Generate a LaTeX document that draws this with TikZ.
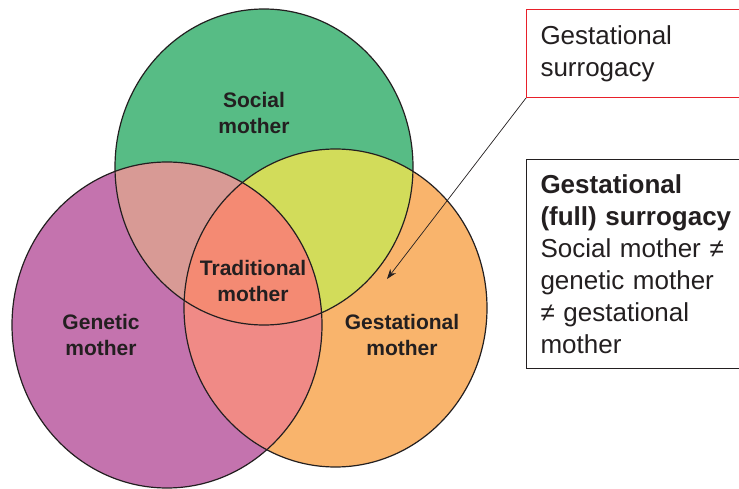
\documentclass[tikz,border=0pt]{standalone}
\usepackage{fontspec}
\setmainfont{Liberation Sans}
\usetikzlibrary{arrows.meta}

\definecolor{inkc}{HTML}{231F20}
\definecolor{socialc}{HTML}{57BC85}
\definecolor{geneticc}{HTML}{C473AE}
\definecolor{gestc}{HTML}{F9B46C}
\definecolor{socgenc}{HTML}{D89A95}
\definecolor{socgestc}{HTML}{D2DC5A}
\definecolor{gengestc}{HTML}{F08A86}
\definecolor{allc}{HTML}{F48A73}
\definecolor{boxred}{HTML}{E8202A}

% the three ellipses of the diagram
\def\socialE{(264,321) ellipse [x radius=149, y radius=158]}
\def\geneticE{(167,163) ellipse [x radius=155, y radius=163]}
\def\gestE{(335.5,180) ellipse [x radius=151.5, y radius=159]}

\tikzset{
  outline/.style={draw=inkc, line width=1.2pt},
  setlabel/.style={text=inkc, font=\fontsize{21}{26}\selectfont\bfseries, align=center, inner sep=0pt},
  infobox/.style={anchor=north west, rectangle, line width=1pt, text=inkc,
    font=\fontsize{26}{32}\selectfont, align=left, text width=202pt,
    inner xsep=14pt, inner ysep=0pt},
  pointer/.style={draw=inkc, line width=0.7pt, -{Stealth[length=10pt,width=7pt]}}
}

\begin{document}
\begin{tikzpicture}[x=1pt,y=1pt]
\useasboundingbox (0,0) rectangle (739,488);
\clip (0,0) rectangle (739,488);

% plain fills
\fill[socialc] \socialE;
\fill[geneticc] \geneticE;
\fill[gestc] \gestE;

% pairwise overlaps
\begin{scope}
  \clip \socialE;
  \fill[socgenc] \geneticE;
  \fill[socgestc] \gestE;
\end{scope}
\begin{scope}
  \clip \geneticE;
  \fill[gengestc] \gestE;
\end{scope}
% overlap of all three
\begin{scope}
  \clip \socialE;
  \clip \geneticE;
  \fill[allc] \gestE;
\end{scope}

% outlines
\draw[outline] \socialE;
\draw[outline] \geneticE;
\draw[outline] \gestE;

% set labels
\node[setlabel] (social) at (254,375) {Social\\mother};
\node[setlabel] (traditional) at (253,207) {Traditional\\mother};
\node[setlabel] (genetic) at (101,153.5) {Genetic\\mother};
\node[setlabel] (gestational) at (402,153.5) {Gestational\\mother};

% text boxes
\node[infobox, draw=boxred, minimum height=88pt] (gsbox) at (526,479)
  {Gestational\\surrogacy};
\node[infobox, draw=inkc, minimum height=209pt] (fullbox) at (526,329)
  {\textbf{Gestational}\\\textbf{(full) surrogacy}\\Social mother ≠\\genetic mother\\≠ gestational\\mother};

% pointer into the social/gestational overlap
\coordinate (tip) at (387,209);
\draw[pointer] (gsbox.south west) -- (tip);
\end{tikzpicture}
\end{document}
